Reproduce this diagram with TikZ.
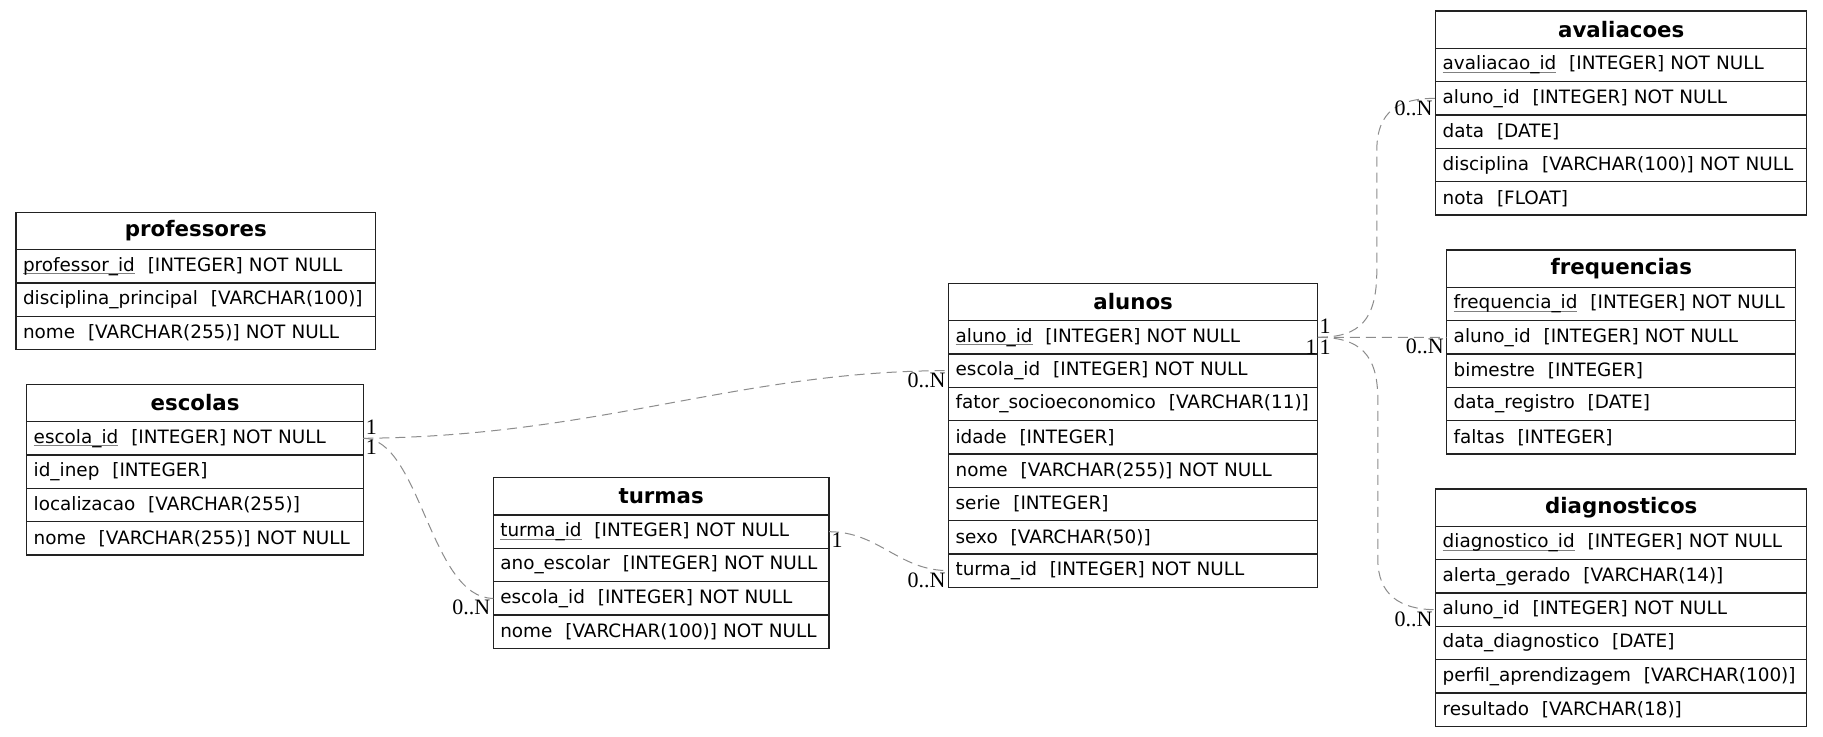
\documentclass[tikz,border=0pt]{standalone}
\usepackage{fontspec}
\setmainfont{DejaVu Sans}
\newfontfamily\cardfamily{Liberation Serif}
\usepackage{tikz}
\usetikzlibrary{positioning}
\definecolor{relgray}{HTML}{8C8C8C}
\definecolor{pkline}{HTML}{808080}
\definecolor{frame}{HTML}{222222}

\newcommand\headtext{\fontsize{16}{19}\selectfont\bfseries}
\newcommand\rowtext{\fontsize{13.8}{16}\selectfont}
\newcommand\cardtext{\cardfamily\fontsize{16.5}{18}\selectfont}
\newcommand\fld[2]{\mbox{#1\hspace{0.7em}#2}}
\newcommand\pkname[1]{\setbox0\hbox{#1}\rlap{\color{pkline}\rule[-2.4pt]{\wd0}{0.75pt}}\box0}
\newcommand\pkfld[2]{\mbox{\pkname{#1}\hspace{0.7em}#2}}

\begin{document}
\begin{tikzpicture}[
    x=0.75pt, y=-0.75pt,
    tbl/.style={draw=frame,line width=0.9pt,outer sep=0pt,inner sep=0pt},
    thead/.style={tbl,font=\headtext,minimum height=28pt,minimum width=#1},
    trow/.style={tbl,font=\rowtext,minimum height=25pt,inner xsep=5.25pt,
                 text width=#1,align=left},
    rel/.style={relgray,line width=0.75pt,dash pattern=on 7.5pt off 4.5pt},
    card/.style={font=\cardtext,inner sep=0.5pt,text=black}
  ]
    \useasboundingbox[fill=white] (0,0) rectangle (1823,737);

    % professores
    \node[thead=269.8pt,anchor=north west] (prof) at (16,212.3) {professores};
    \node[trow=259.3pt,below=0pt of prof]      (prof-id)   {\pkfld{professor\_id}{[INTEGER] NOT NULL}};
    \node[trow=259.3pt,below=0pt of prof-id]   (prof-disc) {\fld{disciplina\_principal}{[VARCHAR(100)]}};
    \node[trow=259.3pt,below=0pt of prof-disc] (prof-nome) {\fld{nome}{[VARCHAR(255)] NOT NULL}};

    % escolas
    \node[thead=252.5pt,anchor=north west] (esc) at (26.7,384.3) {escolas};
    \node[trow=242pt,below=0pt of esc]      (esc-id)   {\pkfld{escola\_id}{[INTEGER] NOT NULL}};
    \node[trow=242pt,below=0pt of esc-id]   (esc-inep) {\fld{id\_inep}{[INTEGER]}};
    \node[trow=242pt,below=0pt of esc-inep] (esc-loc)  {\fld{localizacao}{[VARCHAR(255)]}};
    \node[trow=242pt,below=0pt of esc-loc]  (esc-nome) {\fld{nome}{[VARCHAR(255)] NOT NULL}};

    % turmas
    \node[thead=251.8pt,anchor=north west] (tur) at (493.3,477.7) {turmas};
    \node[trow=241.3pt,below=0pt of tur]        (tur-id)     {\pkfld{turma\_id}{[INTEGER] NOT NULL}};
    \node[trow=241.3pt,below=0pt of tur-id]     (tur-ano)    {\fld{ano\_escolar}{[INTEGER] NOT NULL}};
    \node[trow=241.3pt,below=0pt of tur-ano]    (tur-escola) {\fld{escola\_id}{[INTEGER] NOT NULL}};
    \node[trow=241.3pt,below=0pt of tur-escola] (tur-nome)   {\fld{nome}{[VARCHAR(100)] NOT NULL}};

    % alunos
    \node[thead=276.9pt,anchor=north west] (alu) at (948.6,283.3) {alunos};
    \node[trow=266.4pt,below=0pt of alu]        (alu-id)     {\pkfld{aluno\_id}{[INTEGER] NOT NULL}};
    \node[trow=266.4pt,below=0pt of alu-id]     (alu-escola) {\fld{escola\_id}{[INTEGER] NOT NULL}};
    \node[trow=266.4pt,below=0pt of alu-escola] (alu-fator)  {\fld{fator\_socioeconomico}{[VARCHAR(11)]}};
    \node[trow=266.4pt,below=0pt of alu-fator]  (alu-idade)  {\fld{idade}{[INTEGER]}};
    \node[trow=266.4pt,below=0pt of alu-idade]  (alu-nome)   {\fld{nome}{[VARCHAR(255)] NOT NULL}};
    \node[trow=266.4pt,below=0pt of alu-nome]   (alu-serie)  {\fld{serie}{[INTEGER]}};
    \node[trow=266.4pt,below=0pt of alu-serie]  (alu-sexo)   {\fld{sexo}{[VARCHAR(50)]}};
    \node[trow=266.4pt,below=0pt of alu-sexo]   (alu-turma)  {\fld{turma\_id}{[INTEGER] NOT NULL}};

    % avaliacoes
    \node[thead=278.3pt,anchor=north west] (ava) at (1435.7,11) {avaliacoes};
    \node[trow=267.8pt,below=0pt of ava]       (ava-id)    {\pkfld{avaliacao\_id}{[INTEGER] NOT NULL}};
    \node[trow=267.8pt,below=0pt of ava-id]    (ava-aluno) {\fld{aluno\_id}{[INTEGER] NOT NULL}};
    \node[trow=267.8pt,below=0pt of ava-aluno] (ava-data)  {\fld{data}{[DATE]}};
    \node[trow=267.8pt,below=0pt of ava-data]  (ava-disc)  {\fld{disciplina}{[VARCHAR(100)] NOT NULL}};
    \node[trow=267.8pt,below=0pt of ava-disc]  (ava-nota)  {\fld{nota}{[FLOAT]}};

    % frequencias
    \node[thead=261.8pt,anchor=north west] (fre) at (1446.7,250) {frequencias};
    \node[trow=251.3pt,below=0pt of fre]       (fre-id)    {\pkfld{frequencia\_id}{[INTEGER] NOT NULL}};
    \node[trow=251.3pt,below=0pt of fre-id]    (fre-aluno) {\fld{aluno\_id}{[INTEGER] NOT NULL}};
    \node[trow=251.3pt,below=0pt of fre-aluno] (fre-bim)   {\fld{bimestre}{[INTEGER]}};
    \node[trow=251.3pt,below=0pt of fre-bim]   (fre-data)  {\fld{data\_registro}{[DATE]}};
    \node[trow=251.3pt,below=0pt of fre-data]  (fre-falt)  {\fld{faltas}{[INTEGER]}};

    % diagnosticos
    \node[thead=278.3pt,anchor=north west] (dia) at (1435.7,489) {diagnosticos};
    \node[trow=267.8pt,below=0pt of dia]        (dia-id)     {\pkfld{diagnostico\_id}{[INTEGER] NOT NULL}};
    \node[trow=267.8pt,below=0pt of dia-id]     (dia-alerta) {\fld{alerta\_gerado}{[VARCHAR(14)]}};
    \node[trow=267.8pt,below=0pt of dia-alerta] (dia-aluno)  {\fld{aluno\_id}{[INTEGER] NOT NULL}};
    \node[trow=267.8pt,below=0pt of dia-aluno]  (dia-data)   {\fld{data\_diagnostico}{[DATE]}};
    \node[trow=267.8pt,below=0pt of dia-data]   (dia-perfil) {\fld{perfil\_aprendizagem}{[VARCHAR(100)]}};
    \node[trow=267.8pt,below=0pt of dia-perfil] (dia-res)    {\fld{resultado}{[VARCHAR(18)]}};

    % relations
    \draw[rel] (esc-id.east) node[card,anchor=south west,xshift=1pt,yshift=2pt]{1}
      .. controls +(237,-2) and +(-209,0) .. (alu-escola.west)
      node[card,anchor=north east,xshift=-1.5pt,yshift=-0.5pt]{0..N};
    \draw[rel] (esc-id.east) node[card,anchor=north west,xshift=1pt,yshift=-0.5pt]{1}
      .. controls +(57,0) and +(-63,0) .. (tur-escola.west)
      node[card,anchor=north east,xshift=-1.5pt,yshift=-0.5pt]{0..N};
    \draw[rel] (tur-id.east) node[card,anchor=north west,xshift=1pt]{1}
      .. controls +(50,0) and +(-50,0) .. (alu-turma.west)
      node[card,anchor=north east,xshift=-1.5pt,yshift=-0.5pt]{0..N};
    \draw[rel] (alu-id.east) node[card,anchor=south west,xshift=0.5pt,yshift=2pt]{1}
      .. controls +(42,0) and +(0,50) .. ++(59,-67) -- ++(0,-120)
      .. controls +(0,-40) and +(-36,0) .. (ava-aluno.west)
      node[card,anchor=north east,xshift=-1.5pt,yshift=-1pt]{0..N};
    \draw[rel] (alu-id.east) node[card,anchor=north west,xshift=0.5pt,yshift=-1.5pt]{1}
      -- (fre-aluno.west)
      node[card,anchor=north east,xshift=-1.3pt,yshift=-0.5pt]{0..N};
    \draw[rel] (alu-id.east) node[card,anchor=north east,yshift=-1.5pt]{1}
      .. controls +(42,0) and +(0,-45) .. ++(60,62) -- ++(0,160)
      .. controls +(0,35) and +(-36,0) .. (dia-aluno.west)
      node[card,anchor=north east,xshift=-1.5pt,yshift=-1pt]{0..N};
\end{tikzpicture}
\end{document}
